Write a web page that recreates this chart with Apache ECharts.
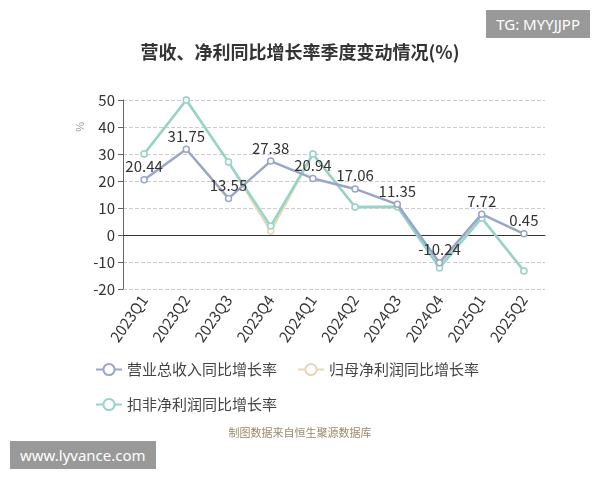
<!DOCTYPE html>
<html lang="zh">
<head>
<meta charset="UTF-8">
<script src="https://cdn.jsdelivr.net/npm/echarts@6/dist/echarts.min.js"></script>
<style>
  body { margin: 0; background: #fff; }
  #chart { width: 600px; height: 480px; }
  .tag { position: absolute; background: #999; color: #fff; font: 15px "Noto Sans", sans-serif; padding: 4px 10px; }
</style>
</head>
<body>
<div id="chart"></div>
<div class="tag" style="top:10px; right:10px;">TG: MYYJJPP</div>
<div class="tag" style="top:441px; left:10px;">www.lyvance.com</div>
<script>
  // 季度
  let quarters = ['2023Q1', '2023Q2', '2023Q3', '2023Q4', '2024Q1', '2024Q2', '2024Q3', '2024Q4', '2025Q1', '2025Q2'];
  let revenue = [20.44, 31.75, 13.55, 27.38, 20.94, 17.06, 11.35, -10.24, 7.72, 0.45];
  let netProfit = [30, 50, 27, 1.5, 30, 10.4, 10.5, -11.5, 6.3, -13.2];
  let deducted = [30, 50, 27, 3.3, 30, 10.4, 10.5, -12.2, 6.3, -13.3];

  let myChart = echarts.init(document.getElementById('chart'));
  let font = '"Noto Sans CJK SC", sans-serif';
  let option = {
    title: {
      text: '营收、净利同比增长率季度变动情况(%)',
      left: 'center', top: 38,
      textStyle: { fontSize: 18, fontWeight: 'bold', color: '#333', fontFamily: font }
    },
    legend: {
      left: 90, top: 357, width: 460, itemGap: 20, itemWidth: 26, itemHeight: 14,
      textStyle: { fontSize: 15, color: '#444', fontFamily: font },
      data: ['营业总收入同比增长率', '归母净利润同比增长率', '扣非净利润同比增长率']
    },
    graphic: [{
      type: 'text', left: 'center', top: 427,
      style: { text: '制图数据来自恒生聚源数据库', fill: '#9a8a6a', fontSize: 11, fontFamily: font }
    }, {
      type: 'text', left: 75, top: 122, rotation: Math.PI / 2,
      style: { text: '%', fill: '#999', fontSize: 11 }
    }],
    grid: { left: 123, right: 55, top: 100, bottom: 191 },
    xAxis: {
      type: 'category', data: quarters, boundaryGap: true,
      axisLine: { onZero: true, lineStyle: { color: '#333' } },
      axisTick: { lineStyle: { color: '#333' } },
      axisLabel: { rotate: 55, fontSize: 15, color: '#333', fontFamily: font, margin: 8, interval: 0 }
    },
    yAxis: {
      type: 'value', min: -20, max: 50, interval: 10,
      axisLine: { show: true, lineStyle: { color: '#666' } },
      axisTick: { show: true },
      axisLabel: { fontSize: 15, color: '#333', fontFamily: font },
      splitLine: { lineStyle: { type: 'dashed', color: '#ccc' } }
    },
    series: [
      {
        name: '营业总收入同比增长率', type: 'line', data: revenue, symbol: 'circle', symbolSize: 6,
        itemStyle: { color: '#fff', borderColor: '#9aa6c9', borderWidth: 1.5 },
        lineStyle: { color: '#9aa6c9', width: 2.5 },
        label: { show: true, position: 'top', color: '#333', fontSize: 15, fontFamily: font, distance: 2 }, z: 3
      },
      {
        name: '归母净利润同比增长率', type: 'line', data: netProfit, symbol: 'circle', symbolSize: 6,
        itemStyle: { color: '#fff', borderColor: '#e8d6b8', borderWidth: 1.5 },
        lineStyle: { color: '#e8d6b8', width: 2.5 }, z: 2
      },
      {
        name: '扣非净利润同比增长率', type: 'line', data: deducted, symbol: 'circle', symbolSize: 6,
        itemStyle: { color: '#fff', borderColor: '#94d5ca', borderWidth: 1.5 },
        lineStyle: { color: '#94d5ca', width: 2.5 }, z: 2
      }
    ]
  };
  myChart.setOption(option);
</script>
</body>
</html>
